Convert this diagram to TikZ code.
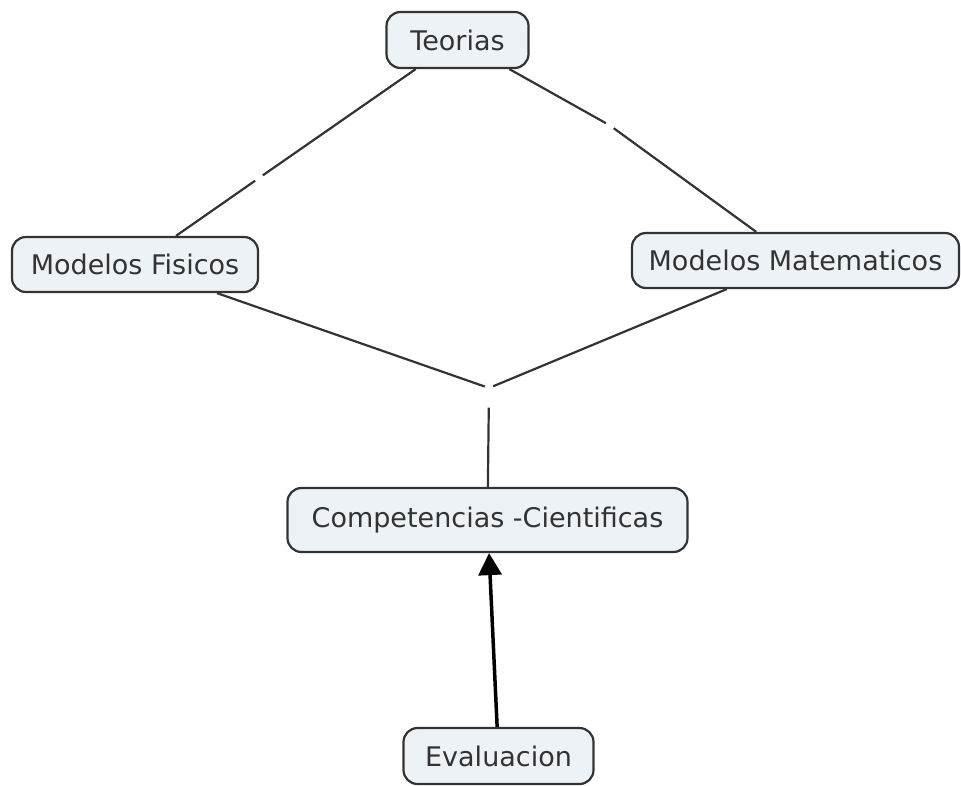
\documentclass[tikz,border=0pt]{standalone}
\usepackage{fontspec}
\setmainfont{DejaVu Sans}
\usetikzlibrary{arrows.meta}
\definecolor{boxfill}{HTML}{EDF2F6}
\definecolor{ink}{HTML}{333333}
\begin{document}
\begin{tikzpicture}[x=1pt,y=-1pt,
  concept/.style={draw=ink, line width=2.2pt, fill=boxfill, rounded corners=14pt,
    inner sep=0pt, text=ink, font=\fontsize{27}{31}\selectfont},
  phrase/.style={inner sep=0pt, minimum width=8pt, minimum height=5pt},
  link/.style={draw=ink, line width=2.2pt},
  arrowlink/.style={draw=black, line width=3.5pt, -{Triangle[width=23pt,length=22pt]}}]
\useasboundingbox (0,0) rectangle (961,785);

% concepts
\node[concept, minimum width=142pt, minimum height=56pt] (teo) at (457.5,40) {Teorias};
\node[concept, minimum width=246pt, minimum height=55pt] (fis) at (135,264.5) {Modelos Fisicos};
\node[concept, minimum width=327pt, minimum height=55pt] (mat) at (795.5,260.5) {Modelos Matematicos};
\node[concept, minimum width=400pt, minimum height=64pt] (comp) at (487.5,520) {Competencias -Cientificas};
\node[concept, minimum width=190pt, minimum height=56pt] (eva) at (498.5,756) {Evaluacion};

% empty linking phrases
\node[phrase] (p1) at (259,178) {};
\node[phrase] (p2) at (610,125.5) {};
\node[phrase] (p3) at (489,388) {};

% connectors
\draw[link] (teo) -- (p1);
\draw[link] (p1) -- (fis);
\draw[link] (teo) -- (p2);
\draw[link] (p2) -- (mat);
\draw[link] (fis) -- (p3);
\draw[link] (mat) -- (p3);
\draw[link, shorten <=17pt] (p3) -- (comp);
\draw[arrowlink] (eva) -- (comp);
\end{tikzpicture}
\end{document}
